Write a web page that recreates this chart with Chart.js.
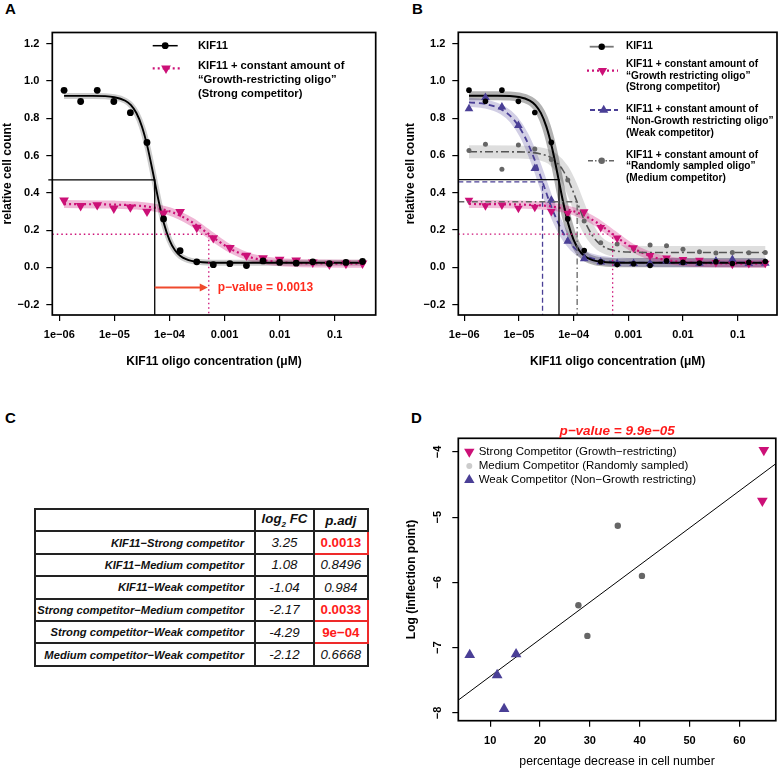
<!DOCTYPE html>
<html>
<head>
<meta charset="utf-8">
<script src="https://cdn.jsdelivr.net/npm/chart.js@4.4.1/dist/chart.umd.min.js"></script>
<style>
  body { margin:0; background:#fff; width:782px; height:769px; position:relative; font-family:'Liberation Sans', Arial, sans-serif; }
  canvas { position:absolute; }
  .letra { position:absolute; font-weight:bold; font-size:15px; line-height:15px; }
  #tablaC { position:absolute; left:34px; top:508px; border-collapse:collapse; table-layout:fixed; }
  #tablaC td { border:2px solid #222; height:20.4px; padding:0; white-space:nowrap; color:#111; }
  #tablaC td.nombre { width:208px; padding-right:10px; text-align:right; font-weight:bold; font-style:italic; font-size:11.2px; }
  #tablaC td.valor { width:57px; text-align:center; font-style:italic; font-size:13.3px; }
  #tablaC td.pval { width:51.7px; text-align:center; font-style:italic; font-size:13.3px; }
  #tablaC td.cab { font-weight:bold; font-style:italic; font-size:13.3px; text-align:center; }
  #tablaC td.sig { border:2.5px solid #ee2a2a; color:#ff1a1a; font-weight:bold; font-style:normal; }
</style>
</head>
<body>
<div class="letra" style="left:5px;top:1px">A</div>
<div class="letra" style="left:412px;top:1px">B</div>
<div class="letra" style="left:5px;top:410px">C</div>
<div class="letra" style="left:411px;top:410px">D</div>

<canvas id="graficaA" width="391" height="400" style="left:0;top:0"></canvas>
<canvas id="graficaB" width="391" height="400" style="left:391px;top:0"></canvas>
<table id="tablaC"></table>
<canvas id="graficaD" width="391" height="369" style="left:391px;top:400px"></canvas>

<script>
// ---- datos ----
const concentraciones = [1.22e-6, 2.44e-6, 4.88e-6, 9.77e-6, 1.95e-5, 3.91e-5, 7.81e-5, 1.56e-4, 3.13e-4, 6.25e-4,
                         1.25e-3, 2.5e-3, 5e-3, 0.01, 0.02, 0.04, 0.08, 0.16, 0.32];
const kif11Valores  = [0.95, 0.89, 0.95, 0.89, 0.83, 0.67, 0.26, 0.09, 0.03, 0.015, 0.02, 0.01, 0.035, 0.027, 0.023, 0.03, 0.021, 0.027, 0.032];
const fuerteValores = [0.36, 0.33, 0.335, 0.317, 0.323, 0.30, 0.29, 0.298, 0.214, 0.158, 0.106, 0.064, 0.05, 0.043, 0.038, 0.027, 0.017, 0.021, 0.022];
const debilValores  = [0.85, 0.91, 0.86, 0.76, 0.53, 0.36, 0.14, 0.046, 0.029, 0.021, 0.021, 0.021, 0.034, 0.027, 0.023, 0.034, 0.043, 0.021, 0.023];
const medioValores  = [0.626, 0.66, 0.526, 0.656, 0.635, 0.579, 0.469, 0.249, 0.132, 0.125, 0.102, 0.12, 0.116, 0.098, 0.084, 0.077, 0.08, 0.079, 0.08];

// curvas ajustadas
const curvaKif11X  = [1.22e-6, 3.98e-6, 1e-5, 1.58e-5, 2e-5, 2.51e-5, 3.16e-5, 3.98e-5, 5.01e-5, 6.31e-5, 7.94e-5, 1e-4, 1.26e-4, 1.58e-4, 2e-4, 2.51e-4, 3.98e-4, 1e-3, 0.01, 0.1, 0.32];
const curvaKif11Y  = [0.92, 0.92, 0.913, 0.894, 0.870, 0.828, 0.756, 0.648, 0.509, 0.361, 0.236, 0.147, 0.092, 0.061, 0.044, 0.035, 0.028, 0.025, 0.025, 0.025, 0.025];
const curvaFuerteX = [1.22e-6, 1e-5, 2.51e-5, 5.01e-5, 1e-4, 1.58e-4, 2.51e-4, 3.98e-4, 5.13e-4, 7.94e-4, 1.26e-3, 2e-3, 3.16e-3, 6.31e-3, 0.0158, 0.063, 0.32];
const curvaFuerteY = [0.34, 0.337, 0.332, 0.322, 0.301, 0.277, 0.245, 0.204, 0.18, 0.139, 0.101, 0.073, 0.052, 0.035, 0.025, 0.021, 0.02];
const curvaDebilX  = [1.22e-6, 2.51e-6, 5.01e-6, 7.94e-6, 1.26e-5, 2e-5, 2.7e-5, 3.98e-5, 6.31e-5, 1e-4, 1.58e-4, 2.51e-4, 5.01e-4, 1.58e-3, 0.01, 0.32];
const curvaDebilY  = [0.885, 0.875, 0.843, 0.794, 0.704, 0.566, 0.458, 0.319, 0.19, 0.109, 0.066, 0.044, 0.031, 0.026, 0.025, 0.025];
const curvaMedioX  = [1.22e-6, 1e-5, 2.51e-5, 3.98e-5, 6.31e-5, 8.91e-5, 1.16e-4, 1.58e-4, 2.24e-4, 3.16e-4, 5.01e-4, 1e-3, 3.16e-3, 0.32];
const curvaMedioY  = [0.62, 0.619, 0.608, 0.585, 0.523, 0.436, 0.35, 0.25, 0.168, 0.121, 0.094, 0.0825, 0.08, 0.08];

// punto de inflexion: kif11, fuerte, debil, medio
const inflexionX = [5.4e-5, 5.17e-4, 2.7e-5, 1.16e-4];
const inflexionY = [0.47, 0.178, 0.458, 0.352];

const ejeXTicks = [1e-6, 1e-5, 1e-4, 1e-3, 1e-2, 1e-1];
const ejeXEtiquetas = ['1e−06', '1e−05', '1e−04', '0.001', '0.01', '0.1'];
const ejeYTicks = [-0.2, 0, 0.2, 0.4, 0.6, 0.8, 1.0, 1.2];
const pValorA = 'p−value = 0.0013';

// panel C
const comparaciones = ['KIF11−Strong competitor', 'KIF11−Medium competitor', 'KIF11−Weak competitor',
                       'Strong competitor−Medium competitor', 'Strong competitor−Weak competitor', 'Medium competitor−Weak competitor'];
const log2FC = [3.25, 1.08, -1.04, -2.17, -4.29, -2.12];
const pAjustado = [0.0013, 0.8496, 0.984, 0.0033, 0.0009, 0.6668];

// panel D
const dFuerteX = [64.9, 64.6];
const dFuerteY = [-3.97, -4.75];
const dMedioX = [35.6, 40.45, 27.7, 29.5];
const dMedioY = [-5.13, -5.9, -6.35, -6.82];
const dDebilX = [5.9, 11.4, 12.8, 15.2];
const dDebilY = [-7.11, -7.42, -7.94, -7.10];
const rectaX = [3.6, 67.3];
const rectaY = [-7.805, -4.18];
const dXTicks = [10, 20, 30, 40, 50, 60];
const dYTicks = [-8, -7, -6, -5, -4];
const pValorD = 'p−value = 9.9e−05';

// ---- estilos ----
const FUENTE = "'Liberation Sans', Arial, sans-serif";
const ROSA = '#cc1077';
const AZUL = '#4a3f96';
const GRIS = '#666666';
Chart.defaults.font.family = FUENTE;
Chart.defaults.color = '#000';

const pares = (xs, ys) => xs.map((x, i) => ({ x: x, y: ys[i] }));
const menos = t => String(t).replace('-', '−');

function curva(xs, ys, color, ancho, guiones, orden) {
    return { data: pares(xs, ys), borderColor: color, borderWidth: ancho, borderDash: guiones || [],
             pointRadius: 0, cubicInterpolationMode: 'monotone', fill: false, order: orden };
}
function puntos(xs, ys, color, estilo, radio, rot) {
    return { data: pares(xs, ys), showLine: false, pointStyle: estilo, pointRadius: radio, pointRotation: rot || 0,
             pointBackgroundColor: color, pointBorderColor: color, pointBorderWidth: 0, order: 1 };
}

function marcador(ctx, tipo, x, y, r, color) {
    ctx.fillStyle = color;
    ctx.beginPath();
    if (tipo === 'circle') {
        ctx.arc(x, y, r, 0, 2 * Math.PI);
    } else {
        const s = tipo === 'up' ? 1 : -1;
        ctx.moveTo(x, y - s * r);
        ctx.lineTo(x + r * 0.866, y + s * r / 2);
        ctx.lineTo(x - r * 0.866, y + s * r / 2);
        ctx.closePath();
    }
    ctx.fill();
}

const marco = {
    id: 'marco',
    afterDraw(chart) {
        const { ctx, chartArea: a } = chart;
        ctx.save();
        ctx.strokeStyle = '#000';
        ctx.lineWidth = 1.7;
        ctx.strokeRect(a.left, a.top, a.width, a.height);
        ctx.restore();
    }
};

// lineas del punto de inflexion
function guias(lista) {
    return {
        id: 'guias',
        afterDatasetsDraw(chart) {
            const { ctx, chartArea: a, scales } = chart;
            ctx.save();
            lista.forEach(g => {
                const px = scales.x.getPixelForValue(inflexionX[g.i]);
                const py = scales.y.getPixelForValue(inflexionY[g.i]);
                ctx.strokeStyle = g.color;
                ctx.lineWidth = g.ancho;
                ctx.setLineDash(g.guiones);
                ctx.beginPath();
                ctx.moveTo(a.left - (g.extra || 0), py);
                ctx.lineTo(px, py);
                ctx.lineTo(px, a.bottom);
                ctx.stroke();
            });
            ctx.restore();
        }
    };
}

function leyenda(items, fuente) {
    return {
        id: 'leyenda',
        afterDraw(chart) {
            const ctx = chart.ctx;
            ctx.save();
            items.forEach(it => {
                if (it.x2) {
                    ctx.strokeStyle = it.color;
                    ctx.lineWidth = it.lw;
                    ctx.setLineDash(it.dash || []);
                    ctx.beginPath();
                    ctx.moveTo(it.x1, it.y);
                    ctx.lineTo(it.x2, it.y);
                    ctx.stroke();
                    ctx.setLineDash([]);
                }
                marcador(ctx, it.marker, it.mx, it.y, it.mr, it.mcolor);
                ctx.fillStyle = '#000';
                ctx.font = fuente;
                ctx.textBaseline = 'middle';
                ctx.textAlign = 'left';
                it.lines.forEach((t, k) => ctx.fillText(t, it.tx, it.ty[k]));
            });
            ctx.restore();
        }
    };
}

function escalaX(min, max) {
    return {
        type: 'logarithmic', min: min, max: max,
        afterBuildTicks: s => { s.ticks = ejeXTicks.map(v => ({ value: v })); },
        afterFit: s => { s.height = 85; },
        ticks: { autoSkip: false, maxRotation: 0, minRotation: 0, padding: 7, font: { size: 11, weight: 'bold' },
                 callback: (v, i) => ejeXEtiquetas[i] },
        grid: { drawOnChartArea: false, tickLength: 6, color: '#000', lineWidth: 1.2 },
        border: { display: false },
        title: { display: true, text: 'KIF11 oligo concentration (μM)', font: { size: 12, weight: 'bold' },
                 padding: { top: 0, bottom: 31 } }
    };
}
function escalaY(ancho, pad) {
    return {
        type: 'linear', min: -0.255, max: 1.26,
        afterBuildTicks: s => { s.ticks = ejeYTicks.map(v => ({ value: v })); },
        afterFit: s => { s.width = ancho; },
        ticks: { padding: 7, font: { size: 11, weight: 'bold' },
                 callback: v => (v < 0 ? '−' : '') + Math.abs(v).toFixed(1) },
        grid: { drawOnChartArea: false, tickLength: 6, color: '#000', lineWidth: 1.2 },
        border: { display: false },
        title: { display: true, text: 'relative cell count', font: { size: 12, weight: 'bold' },
                 padding: { top: pad, bottom: 0 } }
    };
}
const basico = { responsive: false, animation: false, devicePixelRatio: 1,
                 plugins: { legend: { display: false }, tooltip: { enabled: false } } };

// ---- panel A ----
const flechaA = {
    id: 'flechaA',
    afterDraw(chart) {
        const { ctx, scales } = chart;
        const x1 = scales.x.getPixelForValue(inflexionX[0]);
        const x2 = scales.x.getPixelForValue(inflexionX[1]);
        const y = scales.y.getPixelForValue(-0.107);
        ctx.save();
        ctx.strokeStyle = '#ef4a2e';
        ctx.fillStyle = '#ef4a2e';
        ctx.lineWidth = 2;
        ctx.beginPath();
        ctx.moveTo(x1, y);
        ctx.lineTo(x2 - 6, y);
        ctx.stroke();
        ctx.beginPath();
        ctx.moveTo(x2 - 1, y);
        ctx.lineTo(x2 - 9, y - 4);
        ctx.lineTo(x2 - 9, y + 4);
        ctx.closePath();
        ctx.fill();
        ctx.fillStyle = '#ff2b1c';
        ctx.font = 'bold 12px ' + FUENTE;
        ctx.textBaseline = 'middle';
        ctx.fillText(pValorA, x2 + 9, y);
        ctx.restore();
    }
};

new Chart(document.getElementById('graficaA'), {
    type: 'line',
    data: { datasets: [
        curva(curvaKif11X, curvaKif11Y, 'rgba(0,0,0,0.2)', 6, [], 10),
        curva(curvaFuerteX, curvaFuerteY, 'rgba(204,16,119,0.3)', 8, [], 10),
        curva(curvaKif11X, curvaKif11Y, '#000', 1.9, [], 5),
        curva(curvaFuerteX, curvaFuerteY, ROSA, 2.2, [2, 3], 5),
        puntos(concentraciones, kif11Valores, '#000', 'circle', 3.4),
        puntos(concentraciones, fuerteValores, ROSA, 'triangle', 5.6, 180)
    ] },
    options: Object.assign({}, basico, {
        layout: { padding: { left: 0, top: 32.5, right: 15.3, bottom: 0 } },
        scales: { x: escalaX(7.46e-7, 0.555), y: escalaY(52.3, 0) }
    }),
    plugins: [
        marco,
        guias([{ i: 0, color: '#000', ancho: 1.3, guiones: [], extra: 4 },
               { i: 1, color: ROSA, ancho: 1.3, guiones: [1.5, 3] }]),
        flechaA,
        leyenda([
            { x1: 152.7, x2: 177.7, y: 45.7, color: '#000', lw: 1.5, marker: 'circle', mx: 165.2, mr: 3.4, mcolor: '#000',
              tx: 198, ty: [45.7], lines: ['KIF11'] },
            { x1: 152.7, x2: 181, y: 68.3, color: ROSA, lw: 2.2, dash: [2, 3], marker: 'down', mx: 166, mr: 5.6, mcolor: ROSA,
              tx: 198, ty: [66.3, 80, 93.7],
              lines: ['KIF11 + constant amount of', '“Growth-restricting oligo”', '(Strong competitor)'] }
        ], 'bold 11.2px ' + FUENTE)
    ]
});

// ---- panel B ----
new Chart(document.getElementById('graficaB'), {
    type: 'line',
    data: { datasets: [
        curva(curvaMedioX, curvaMedioY, 'rgba(0,0,0,0.13)', 13, [], 12),
        curva(curvaFuerteX, curvaFuerteY, 'rgba(204,16,119,0.28)', 8, [], 11),
        curva(curvaDebilX, curvaDebilY, 'rgba(74,63,150,0.25)', 9, [], 11),
        curva(curvaKif11X, curvaKif11Y, 'rgba(0,0,0,0.3)', 9, [], 11),
        curva(curvaMedioX, curvaMedioY, '#555', 1.6, [8, 3, 2, 3], 5),
        curva(curvaFuerteX, curvaFuerteY, ROSA, 2.2, [2, 3], 5),
        curva(curvaDebilX, curvaDebilY, AZUL, 1.8, [6, 4], 5),
        curva(curvaKif11X, curvaKif11Y, '#000', 2, [], 4),
        puntos(concentraciones, kif11Valores, '#000', 'circle', 2.8),
        puntos(concentraciones, fuerteValores, ROSA, 'triangle', 5, 180),
        puntos(concentraciones, debilValores, AZUL, 'triangle', 5),
        puntos(concentraciones, medioValores, GRIS, 'circle', 2.5)
    ] },
    options: Object.assign({}, basico, {
        layout: { padding: { left: 0, top: 32.3, right: 2, bottom: 0 } },
        scales: { x: escalaX(7.78e-7, 0.524), y: escalaY(67.3, 12.8) }
    }),
    plugins: [
        marco,
        guias([{ i: 0, color: '#000', ancho: 1.3, guiones: [] },
               { i: 2, color: AZUL, ancho: 1.3, guiones: [5, 3] },
               { i: 3, color: GRIS, ancho: 1.3, guiones: [6, 3, 1.5, 3] },
               { i: 1, color: ROSA, ancho: 1.3, guiones: [1.5, 3] }]),
        leyenda([
            { x1: 198.7, x2: 222.7, y: 46.7, color: '#777', lw: 1.8, marker: 'circle', mx: 210.7, mr: 3.2, mcolor: '#000',
              tx: 235, ty: [46.7], lines: ['KIF11'] },
            { x1: 196, x2: 227, y: 70.7, color: ROSA, lw: 2.2, dash: [2, 3], marker: 'down', mx: 211.5, mr: 5.3, mcolor: ROSA,
              tx: 235, ty: [64, 76, 87.7],
              lines: ['KIF11 + constant amount of', '“Growth restricting oligo”', '(Strong competitor)'] },
            { x1: 199, x2: 227, y: 110, color: AZUL, lw: 1.8, dash: [5, 3], marker: 'up', mx: 212.7, mr: 5.3, mcolor: AZUL,
              tx: 235, ty: [109.3, 121, 133],
              lines: ['KIF11 + constant amount of', '“Non-Growth restricting oligo”', '(Weak competitor)'] },
            { x1: 197, x2: 224, y: 160.7, color: GRIS, lw: 1.5, dash: [5, 2, 1.5, 2], marker: 'circle', mx: 210.7, mr: 3.2, mcolor: GRIS,
              tx: 235, ty: [155, 166.7, 178.3],
              lines: ['KIF11 + constant amount of', '“Randomly sampled oligo”', '(Medium competitor)'] }
        ], 'bold 10.1px ' + FUENTE)
    ]
});

// ---- panel C (tabla) ----
function formatoP(v) {
    if (v >= 0.001) return String(v);
    const partes = v.toExponential(0).split('e');
    const exp = Math.abs(parseInt(partes[1], 10));
    return partes[0] + 'e' + (parseInt(partes[1], 10) < 0 ? '−' : '') + String(exp).padStart(2, '0');
}
const tabla = document.getElementById('tablaC');
let filas = '<tr><td class="nombre"></td><td class="valor cab">log<sub style="font-size:8px">2</sub> FC</td><td class="pval cab">p.adj</td></tr>';
comparaciones.forEach((c, i) => {
    const sig = pAjustado[i] < 0.05 ? ' sig' : '';
    filas += '<tr><td class="nombre">' + c + '</td><td class="valor">' + log2FC[i].toFixed(2) +
             '</td><td class="pval' + sig + '">' + formatoP(pAjustado[i]) + '</td></tr>';
});
tabla.innerHTML = filas;

// ---- panel D ----
const extrasD = {
    id: 'extrasD',
    afterDraw(chart) {
        const { ctx, chartArea: a, scales } = chart;
        ctx.save();
        ctx.fillStyle = '#000';
        ctx.font = 'bold 11px ' + FUENTE;
        ctx.textAlign = 'center';
        ctx.textBaseline = 'middle';
        dYTicks.forEach(v => {
            ctx.save();
            ctx.translate(46.7, scales.y.getPixelForValue(v));
            ctx.rotate(-Math.PI / 2);
            ctx.fillText(menos(v), 0, 0);
            ctx.restore();
        });
        ctx.fillStyle = '#ff1a1a';
        ctx.font = 'italic bold 13.5px ' + FUENTE;
        ctx.fillText(pValorD, (a.left + a.right) / 2, 31.7);
        ctx.restore();
    }
};

new Chart(document.getElementById('graficaD'), {
    type: 'line',
    data: { datasets: [
        { data: pares(rectaX, rectaY), borderColor: '#000', borderWidth: 1, pointRadius: 0, order: 5 },
        puntos(dFuerteX, dFuerteY, ROSA, 'triangle', 6.2, 180),
        puntos(dMedioX, dMedioY, GRIS, 'circle', 3.2),
        puntos(dDebilX, dDebilY, AZUL, 'triangle', 6.2)
    ] },
    options: Object.assign({}, basico, {
        layout: { padding: { left: 0, top: 38.3, right: 1.7, bottom: 0 } },
        scales: {
            x: {
                type: 'linear', min: 3.61, max: 67.3,
                afterBuildTicks: s => { s.ticks = dXTicks.map(v => ({ value: v })); },
                afterFit: s => { s.height = 48.3; },
                ticks: { padding: 8, maxRotation: 0, autoSkip: false, font: { size: 11, weight: 'bold' } },
                grid: { drawOnChartArea: false, tickLength: 6, color: '#000', lineWidth: 1.2 },
                border: { display: false },
                title: { display: true, text: 'percentage decrease in cell number', font: { size: 12.3 },
                         padding: { top: 0, bottom: 0 } }
            },
            y: {
                type: 'linear', min: -8.12, max: -3.79,
                afterBuildTicks: s => { s.ticks = dYTicks.map(v => ({ value: v })); },
                afterFit: s => { s.width = 67.3; },
                ticks: { display: false },
                grid: { drawOnChartArea: false, tickLength: 6, color: '#000', lineWidth: 1.2 },
                border: { display: false },
                title: { display: true, text: 'Log (inflection point)', font: { size: 12, weight: 'bold' },
                         padding: { top: 13.8, bottom: 0 } }
            }
        }
    }),
    plugins: [
        marco,
        extrasD,
        leyenda([
            { y: 51.7, marker: 'down', mx: 78.3, mr: 6, mcolor: ROSA, tx: 87.7, ty: [51.7],
              lines: ['Strong Competitor (Growth−restricting)'] },
            { y: 66, marker: 'circle', mx: 78.3, mr: 3, mcolor: '#cccccc', tx: 87.7, ty: [66],
              lines: ['Medium Competitor (Randomly sampled)'] },
            { y: 80, marker: 'up', mx: 78.3, mr: 6, mcolor: AZUL, tx: 87.7, ty: [80],
              lines: ['Weak Competitor (Non−Growth restricting)'] }
        ], '11.5px ' + FUENTE)
    ]
});
</script>
</body>
</html>
